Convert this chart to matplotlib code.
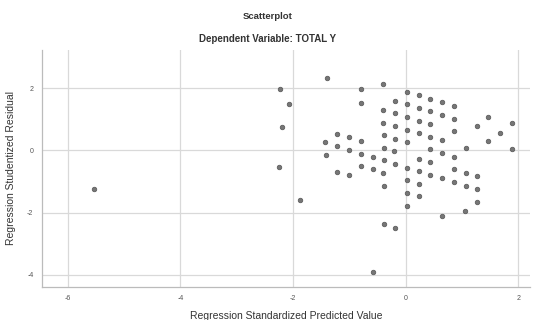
import numpy as np
import matplotlib.pyplot as plt

plt.rcParams['font.family'] = ['Liberation Sans', 'DejaVu Sans']

# predicted value (standardized) vs studentized residual
pred = [-5.54, -2.23, -2.07, -2.20, -2.24, -1.87, -1.39,
        -1.43, -1.22, -1.22, -1.01, -1.01, -1.42, -1.22, -1.01,
        -0.80, -0.80, -0.79, -0.80, -0.80, -0.58, -0.58, -0.58,
        -0.40, -0.40, -0.40, -0.38, -0.38, -0.38, -0.38, -0.40, -0.39,
        -0.18, -0.18, -0.18, -0.18, -0.21, -0.18, -0.18,
        0.02, 0.02, 0.02, 0.02, 0.02, 0.02, 0.02, 0.02, 0.02,
        0.24, 0.24, 0.24, 0.24, 0.24, 0.24, 0.24, 0.24,
        0.43, 0.43, 0.43, 0.43, 0.43, 0.43, 0.43,
        0.64, 0.64, 0.64, 0.64, 0.64, 0.64,
        0.85, 0.85, 0.85, 0.85, 0.85, 0.85,
        1.07, 1.07, 1.07, 1.05, 1.26, 1.26, 1.26, 1.26,
        1.46, 1.46, 1.68, 1.88, 1.88]
resid = [-1.24, 1.96, 1.50, 0.74, -0.53, -1.60, 2.34,
         0.26, 0.54, 0.14, 0.43, 0.02, -0.16, -0.69, -0.80,
         1.96, 1.54, 0.31, -0.10, -0.50, -0.22, -0.61, -3.90,
         2.12, 1.31, 0.89, 0.49, 0.08, -0.32, -1.15, -0.74, -2.35,
         1.59, 1.19, 0.78, 0.38, -0.03, -0.44, -2.49,
         1.89, 1.48, 1.07, 0.66, 0.26, -0.55, -0.95, -1.37, -1.78,
         1.78, 1.36, 0.95, 0.55, -0.26, -0.67, -1.08, -1.47,
         1.66, 1.26, 0.84, 0.43, 0.03, -0.38, -0.78,
         1.55, 1.14, 0.32, -0.09, -0.89, -2.12,
         1.43, 1.02, 0.63, -0.21, -0.61, -1.02,
         0.09, -0.71, -1.14, -1.94, 0.79, -0.83, -1.24, -1.66,
         1.08, 0.29, 0.57, 0.87, 0.04]

xticks = [-6, -4, -2, 0, 2]
yticks = [2, 0, -2, -4]

fig = plt.figure(figsize=(5.36, 3.2), dpi=100, facecolor='white')
ax = fig.add_axes([0.078, 0.103, 0.911, 0.741])

ax.scatter(pred, resid, s=11, color='#767676', edgecolors='#555555', linewidths=0.5, zorder=3)

ax.set_xlim(-6.46, 2.21)
ax.set_ylim(-4.39, 3.23)
ax.set_xticks(xticks)
ax.set_yticks(yticks)
ax.set_xticklabels([str(t) for t in xticks], fontsize=5, color='#555555')
ax.set_yticklabels([str(t) for t in yticks], fontsize=5, color='#555555')
ax.tick_params(length=0, pad=6)
ax.grid(True, color='#d9d9d9', linewidth=0.9)
ax.set_axisbelow(True)

for s in ['top', 'right']:
    ax.spines[s].set_visible(False)
for s in ['left', 'bottom']:
    ax.spines[s].set_color('#bbbbbb')
    ax.spines[s].set_linewidth(0.9)

ax.set_xlabel('Regression Standardized Predicted Value', fontsize=7.5, color='#333333', labelpad=6)
ax.set_ylabel('Regression Studentized Residual', fontsize=7.5, color='#333333', labelpad=8)

fig.text(0.5, 0.947, 'Scatterplot', ha='center', va='center', fontsize=6.8, color='#333333', fontweight='bold')
fig.text(0.5, 0.878, 'Dependent Variable: TOTAL Y', ha='center', va='center', fontsize=7, color='#333333', fontweight='bold')

plt.savefig('out.png', dpi=100)
